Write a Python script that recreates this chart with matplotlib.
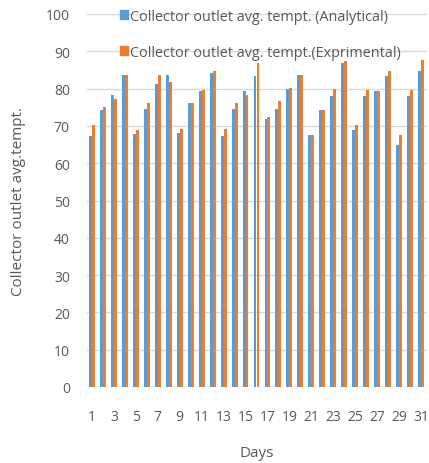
#!/usr/bin/env python3

import numpy as np
import matplotlib
matplotlib.use('Agg')
import matplotlib.pyplot as plt
from matplotlib.patches import Patch

days = list(range(1, 32))
analytical = [67.3, 74.3, 78.2, 83.6, 67.7, 74.5, 81.1, 83.6, 68.2, 76.1,
              79.3, 84.3, 67.3, 74.6, 79.3, 83.4, 71.8, 74.6, 79.8, 83.7,
              67.5, 74.3, 77.9, 86.8, 68.9, 77.9, 79.3, 83.4, 64.8, 77.9,
              84.8]
experimental = [70.2, 75.2, 77.1, 83.6, 68.9, 76.2, 83.6, 81.8, 69.1, 76.1,
                79.6, 84.6, 69.1, 76.1, 78.4, 86.8, 72.5, 76.6, 80.2, 83.7,
                67.5, 74.3, 80.0, 87.3, 70.3, 79.5, 79.3, 84.8, 67.5, 79.5,
                87.7]
labels = ['Collector outlet avg. tempt. (Analytical)',
          'Collector outlet avg. tempt.(Exprimental)']
xticks = list(range(1, 32, 2))
yticks = list(range(0, 101, 10))

BLUE = '#5B9BD5'
ORANGE = '#ED7D31'
GREY = '#595959'

plt.rcParams['font.family'] = ['Open Sans', 'DejaVu Sans']

fig = plt.figure(figsize=(4.29, 4.64), dpi=100)
ax = fig.add_axes([86.5 / 429, 76 / 464, 340 / 429, 373 / 464])

x = np.array(days)
w = 0.27
ax.bar(x - w / 2, analytical, w, color=BLUE, zorder=3)
ax.bar(x + w / 2, experimental, w, color=ORANGE, zorder=3)

ax.set_xlim(0.5, 31.5)
ax.set_ylim(0, 100)
ax.set_yticks(yticks)
ax.set_xticks(xticks)
ax.grid(axis='y', color='#D9D9D9', linewidth=1, zorder=0)
ax.set_axisbelow(True)
for s in ax.spines.values():
    s.set_visible(False)
ax.tick_params(length=0, labelsize=10, colors=GREY)
ax.tick_params(axis='y', pad=12)
ax.tick_params(axis='x', pad=16)

ax.set_xlabel('Days', fontsize=11, color=GREY, labelpad=15)
ax.set_ylabel('Collector outlet avg.tempt.', fontsize=11, color=GREY, labelpad=14)

handles = [Patch(color=BLUE), Patch(color=ORANGE)]
leg = ax.legend(handles, labels, loc='upper left', bbox_to_anchor=(0.082, 1.03),
                frameon=False, fontsize=10.4, handlelength=0.55, handleheight=0.55,
                handletextpad=0.15, labelspacing=1.45, borderaxespad=0)
for t in leg.get_texts():
    t.set_color(GREY)

fig.savefig('out.png', dpi=100)
